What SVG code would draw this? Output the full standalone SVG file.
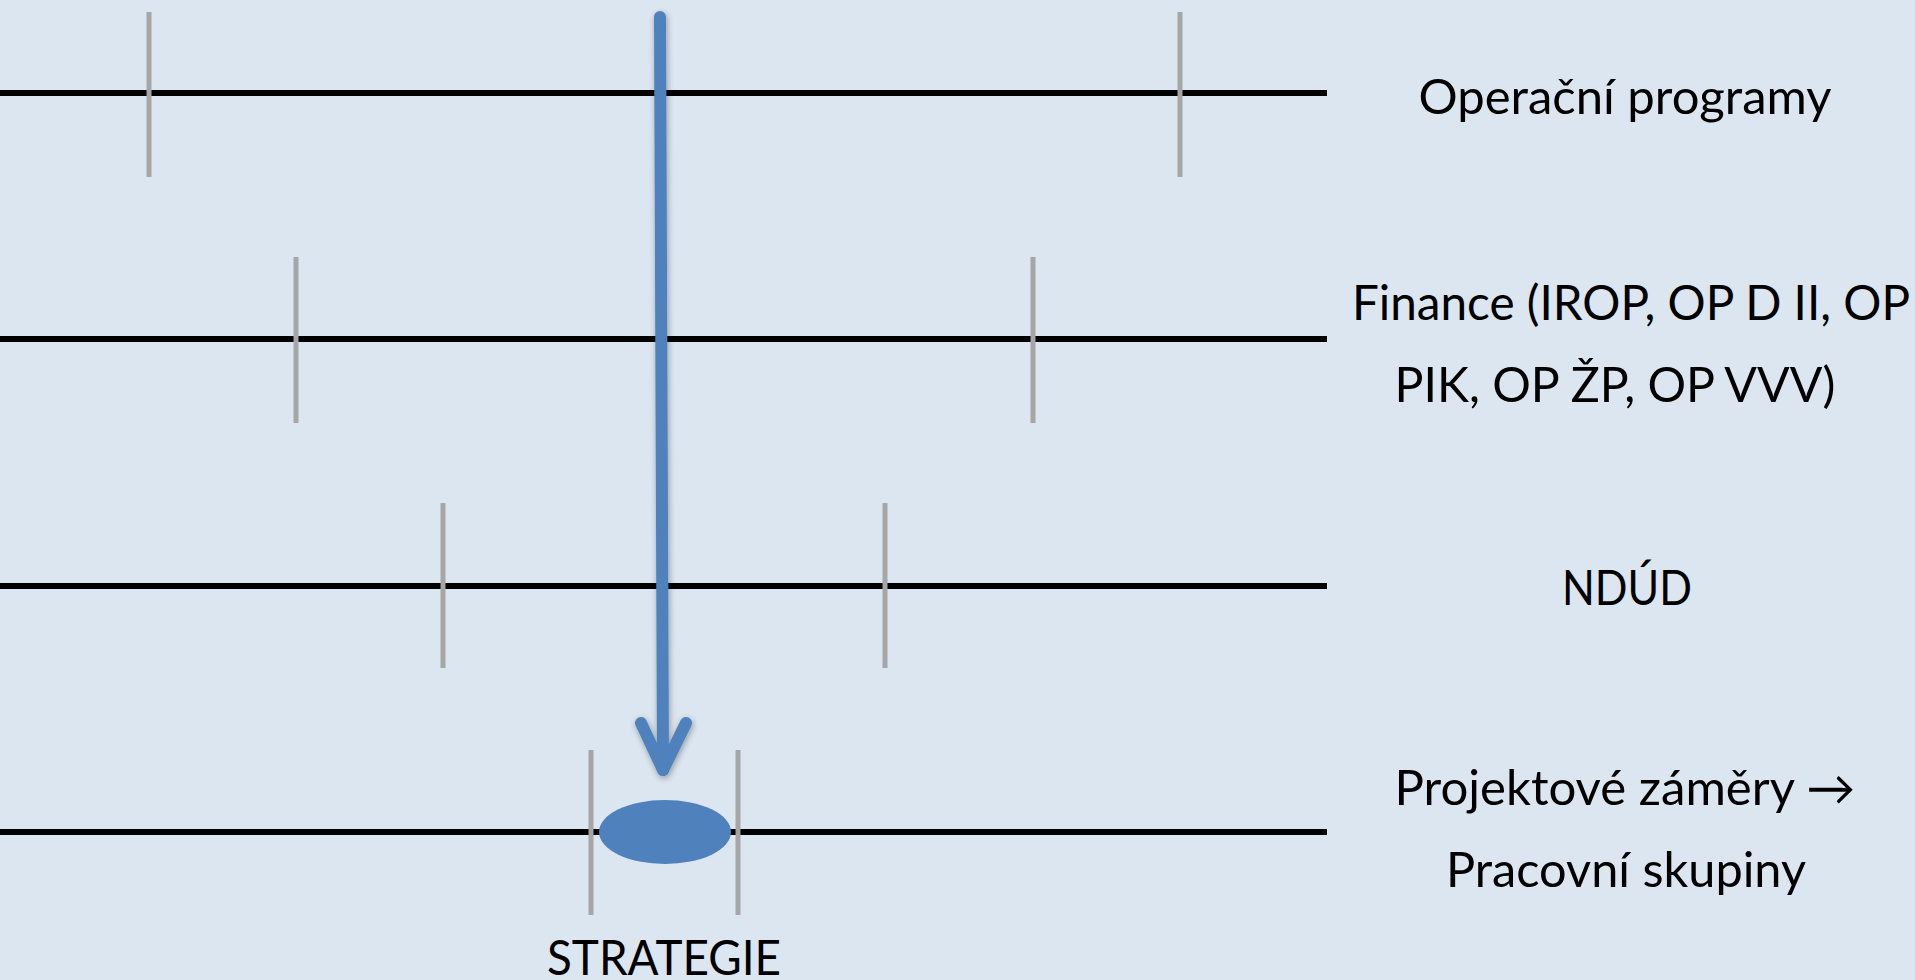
<svg xmlns="http://www.w3.org/2000/svg" width="1915" height="980" viewBox="0 0 1915 980">
  <defs>
    <style>
      .axis { stroke: #000000; stroke-width: 6; }
      .tick { stroke: #a6a6a6; stroke-width: 5; }
      .lbl { font-family: Lato, "Open Sans", "Liberation Sans", sans-serif; font-size: 48px; fill: #000000; text-anchor: middle; }
      .arrow { stroke: #4f81bd; stroke-width: 12; fill: none; stroke-linecap: round; stroke-linejoin: round; }
    </style>
    <filter id="shadow" x="-50%" y="-5%" width="200%" height="110%">
      <feGaussianBlur in="SourceAlpha" stdDeviation="3"/>
      <feOffset dx="1" dy="2" result="b"/>
      <feComponentTransfer><feFuncA type="linear" slope="0.35"/></feComponentTransfer>
      <feMerge><feMergeNode/><feMergeNode in="SourceGraphic"/></feMerge>
    </filter>
  </defs>
  <rect width="1915" height="980" fill="#dce6f0"/>

  <g id="row-operacni">
    <line class="axis" x1="0" y1="93" x2="1327" y2="93"/>
    <line class="tick" x1="149" y1="12" x2="149" y2="177"/>
    <line class="tick" x1="1180" y1="12" x2="1180" y2="177"/>
    <text class="lbl" x="1625" y="114" textLength="413" lengthAdjust="spacingAndGlyphs">Operační programy</text>
  </g>

  <g id="row-finance">
    <line class="axis" x1="0" y1="339" x2="1327" y2="339"/>
    <line class="tick" x1="296" y1="257" x2="296" y2="423"/>
    <line class="tick" x1="1033" y1="257" x2="1033" y2="423"/>
    <text class="lbl" x="1631" y="320" textLength="558" lengthAdjust="spacingAndGlyphs">Finance (IROP, OP D II, OP</text>
    <text class="lbl" x="1615" y="402" textLength="441" lengthAdjust="spacingAndGlyphs">PIK, OP ŽP, OP VVV)</text>
  </g>

  <g id="row-ndud">
    <line class="axis" x1="0" y1="586" x2="1327" y2="586"/>
    <line class="tick" x1="443" y1="503" x2="443" y2="668"/>
    <line class="tick" x1="885" y1="503" x2="885" y2="668"/>
    <text class="lbl" x="1627" y="605" textLength="130" lengthAdjust="spacingAndGlyphs">NDÚD</text>
  </g>

  <g id="row-projekty">
    <line class="axis" x1="0" y1="832" x2="1327" y2="832"/>
    <line class="tick" x1="591" y1="750" x2="591" y2="915"/>
    <line class="tick" x1="738" y1="750" x2="738" y2="915"/>
    <text class="lbl" x="1625" y="805" textLength="461" lengthAdjust="spacingAndGlyphs">Projektové záměry →</text>
    <text class="lbl" x="1626" y="887" textLength="360" lengthAdjust="spacingAndGlyphs">Pracovní skupiny</text>
  </g>

  <g id="strategie">
    <ellipse cx="665" cy="832" rx="66" ry="32" fill="#4f81bd"/>
    <text class="lbl" x="664" y="975" textLength="234" lengthAdjust="spacingAndGlyphs">STRATEGIE</text>
  </g>

  <g id="connectors" filter="url(#shadow)">
    <path class="arrow" d="M660 17 L663 770"/>
    <path class="arrow" d="M641 723 L663 770 L686 723"/>
  </g>
</svg>
